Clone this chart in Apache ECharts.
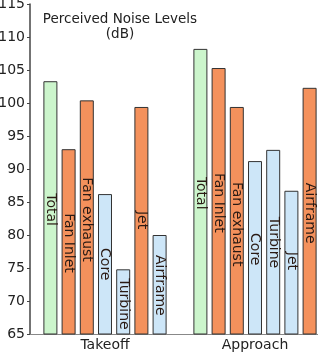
<!DOCTYPE html>
<html>
<head>
<meta charset="utf-8">
<script src="https://cdn.jsdelivr.net/npm/echarts@6/dist/echarts.min.js"></script>
<style>
    html,body{margin:0;padding:0;background:#fff;}
    #chart{width:318px;height:354px;}
</style>
</head>
<body>
<div id="chart"></div>
<script>
// data
var phases = ['Takeoff', 'Approach'];
var sources = ['Total', 'Fan Inlet', 'Fan exhaust', 'Core', 'Turbine', 'Jet', 'Airframe'];
var takeoff = [103.3, 93.0, 100.4, 86.2, 74.8, 99.4, 80.0];
var approach = [108.2, 105.3, 99.4, 91.2, 92.9, 86.7, 102.3];
var yTicks = [65, 115, 5];

// styles
var green = '#ccf5cc', orange = '#f4915c', blue = '#cde6f8';
var takeoffColors = [green, orange, orange, blue, blue, orange, blue];
var approachColors = [green, orange, orange, blue, blue, blue, orange];
// where the rotated name starts, px below bar top
var takeoffLabelGap = [112, 64, 77, 54, 9, 104, 20];
var approachLabelGap = [128, 105, 75, 72, 67, 61, 95];

var font = 'DejaVu Sans';
var myChart = echarts.init(document.getElementById('chart'));

var series = sources.map(function (name, i) {
    function item(v, color, gap) {
        return {
            value: v,
            itemStyle: {color: color},
            label: {position: [7, gap]}
        };
    }
    return {
        name: name,
        type: 'bar',
        barWidth: 14,
        barGap: '30%',
        itemStyle: {borderColor: '#333', borderWidth: 1},
        label: {
            show: true,
            formatter: '{a}',
            rotate: -90,
            align: 'left',
            verticalAlign: 'middle',
            fontFamily: font,
            fontSize: 14,
            color: '#2a1a14'
        },
        data: [
            item(takeoff[i], takeoffColors[i], takeoffLabelGap[i]),
            item(approach[i], approachColors[i], approachLabelGap[i])
        ]
    };
});

myChart.setOption({
    animation: false,
    title: {
        text: 'Perceived Noise Levels\n(dB)',
        left: 115,
        top: 7,
        textAlign: 'center',
        textStyle: {
            fontFamily: font,
            fontSize: 13.5,
            fontWeight: 'normal',
            color: '#222',
            lineHeight: 15
        }
    },
    grid: {left: 30, top: 4, width: 300, height: 330, outerBoundsMode: 'none'},
    xAxis: {
        type: 'category',
        data: phases,
        axisLine: {lineStyle: {color: '#888', width: 1}},
        axisTick: {show: false},
        axisLabel: {fontFamily: font, fontSize: 14, color: '#222', margin: 4}
    },
    yAxis: {
        type: 'value',
        min: yTicks[0],
        max: yTicks[1],
        interval: yTicks[2],
        splitLine: {show: false},
        axisLine: {show: true, lineStyle: {color: '#444', width: 1.5}},
        axisTick: {show: true, length: 3, lineStyle: {color: '#444'}},
        axisLabel: {fontFamily: font, fontSize: 14, color: '#222', margin: 5}
    },
    series: series
});
</script>
</body>
</html>
